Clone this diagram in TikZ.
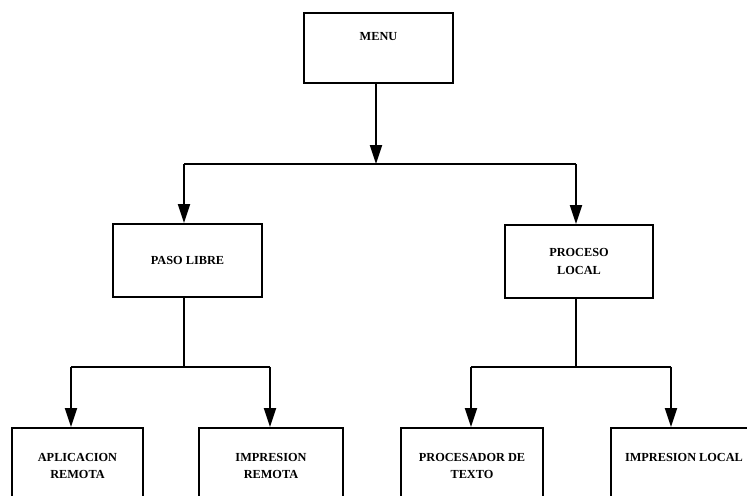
\documentclass[tikz,border=0pt]{standalone}
\usepackage{fontspec}
\setmainfont{Liberation Serif}
\usetikzlibrary{arrows.meta}

\tikzset{
  box/.style={draw, line width=1.1pt, align=center, inner sep=0pt,
    font=\fontsize{7}{9.7}\selectfont\bfseries},
  link/.style={line width=1.1pt},
  arrowlink/.style={link, -{Triangle[length=0.38cm,width=0.24cm]}}
}

\begin{document}
\begin{tikzpicture}[x=0.02cm, y=-0.02cm]
  \useasboundingbox (0,0) rectangle (747,496);
  \clip (0,0) rectangle (747,496);
  \node[box, minimum width=2.98cm, minimum height=1.4cm] (menu) at (378.5,48) {MENU\\[3pt]};
  \node[box, minimum width=2.98cm, minimum height=1.46cm] (paso) at (187.5,260.5) {PASO LIBRE};
  \node[box, minimum width=2.96cm, minimum height=1.46cm] (proceso) at (579,261.5) {PROCESO\\LOCAL};
  \node[box, minimum width=2.62cm, minimum height=1.52cm] (aplic) at (77.5,466) {APLICACION\\REMOTA};
  \node[box, minimum width=2.88cm, minimum height=1.52cm] (imprem) at (271,466) {IMPRESION\\REMOTA};
  \node[box, minimum width=2.84cm, minimum height=1.52cm] (procesador) at (472,466) {PROCESADOR DE\\TEXTO};
  \node[box, minimum width=2.92cm, minimum height=1.52cm] (imploc) at (684,466) {IMPRESION LOCAL\\\mbox{}};
  \coordinate (menujoin) at (376,164);
  \coordinate (busA) at (184,164);
  \coordinate (busB) at (576,164);
  \coordinate (pasojoin) at (184,367);
  \coordinate (busC) at (71,367);
  \coordinate (busD) at (270,367);
  \coordinate (procjoin) at (576,367);
  \coordinate (busE) at (471,367);
  \coordinate (busF) at (671,367);
  % menu to the two branches
  \draw[arrowlink] (menu.south -| menujoin) -- (menujoin);
  \draw[link] (busA) -- (busB);
  \draw[arrowlink] (busA) -- (paso.north -| busA);
  \draw[arrowlink] (busB) -- (proceso.north -| busB);
  % paso libre
  \draw[link] (paso.south -| pasojoin) -- (pasojoin);
  \draw[link] (busC) -- (busD);
  \draw[arrowlink] (busC) -- (aplic.north -| busC);
  \draw[arrowlink] (busD) -- (imprem.north -| busD);
  % proceso local
  \draw[link] (proceso.south -| procjoin) -- (procjoin);
  \draw[link] (busE) -- (busF);
  \draw[arrowlink] (busE) -- (procesador.north -| busE);
  \draw[arrowlink] (busF) -- (imploc.north -| busF);
\end{tikzpicture}
\end{document}
